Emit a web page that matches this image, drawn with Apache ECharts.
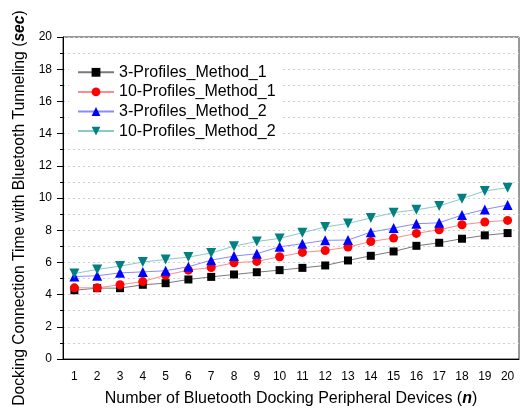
<!DOCTYPE html>
<html>
<head>
<meta charset="utf-8">
<script src="https://cdn.jsdelivr.net/npm/echarts@6/dist/echarts.min.js"></script>
<style>
  html, body { margin: 0; padding: 0; background: #fff; }
  #chart { width: 520px; height: 409px; }
</style>
</head>
<body>
<div id="chart"></div>
<script>
// number of peripheral devices
const devices = ['1', '2', '3', '4', '5', '6', '7', '8', '9', '10',
  '11', '12', '13', '14', '15', '16', '17', '18', '19', '20']

// docking connection time (sec)
const profiles3Method1 = [4.27, 4.40, 4.40, 4.61, 4.71, 4.94, 5.10, 5.25, 5.39, 5.52,
  5.66, 5.81, 6.12, 6.41, 6.68, 7.03, 7.22, 7.47, 7.68, 7.82]
const profiles10Method1 = [4.42, 4.42, 4.61, 4.81, 5.21, 5.52, 5.68, 5.98, 6.06, 6.35,
  6.62, 6.74, 6.95, 7.30, 7.51, 7.80, 8.03, 8.34, 8.51, 8.61]
const profiles3Method2 = [5.12, 5.17, 5.35, 5.41, 5.48, 5.73, 6.14, 6.39, 6.54, 6.97,
  7.16, 7.37, 7.39, 7.88, 8.13, 8.40, 8.46, 8.94, 9.29, 9.56]
const profiles10Method2 = [5.31, 5.56, 5.77, 6.02, 6.18, 6.33, 6.58, 7.01, 7.30, 7.49,
  7.84, 8.20, 8.42, 8.76, 9.09, 9.27, 9.50, 9.96, 10.44, 10.64]

const FONT = "'Liberation Sans', Arial, sans-serif"

function lineSeries(name, data, symbol, color, lineColor, size, rotate) {
  return {
    name,
    type: 'line',
    data,
    symbol,
    symbolSize: size,
    symbolRotate: rotate || 0,
    itemStyle: { color },
    lineStyle: { color: lineColor, width: 1 },
    emphasis: { disabled: true },
  }
}

const chart = echarts.init(document.getElementById('chart'))

chart.setOption({
  animation: false,
  backgroundColor: '#fff',
  textStyle: { fontFamily: FONT },
  grid: {
    left: 63, right: 1, top: 37, bottom: 50,
    outerBoundsMode: 'none',
    containLabel: false,
    show: true, borderColor: '#333', borderWidth: 1,
  },
  legend: {
    orient: 'vertical',
    left: 69, top: 59,
    padding: [5, 5, 5, 8],
    backgroundColor: '#fff',
    itemWidth: 36, itemHeight: 11,
    itemGap: 3,
    textStyle: { fontSize: 16, lineHeight: 16.6, color: '#000', fontFamily: FONT },
  },
  xAxis: {
    type: 'category',
    data: devices,
    boundaryGap: true,
    name: 'Number of Bluetooth Docking Peripheral Devices ({b|n})',
    nameLocation: 'middle',
    nameGap: 32,
    nameTextStyle: {
      fontSize: 16, lineHeight: 16, color: '#000', fontFamily: FONT,
      rich: { b: { fontSize: 16, lineHeight: 16, fontWeight: 'bold', fontStyle: 'italic', fontFamily: FONT } },
    },
    axisLine: { lineStyle: { color: '#000', width: 1 } },
    axisTick: { alignWithLabel: true, length: 5, lineStyle: { color: '#000' } },
    axisLabel: { fontSize: 12, color: '#000', margin: 12, interval: 0 },
    splitLine: { show: false },
  },
  yAxis: {
    type: 'value',
    min: 0, max: 20, interval: 2,
    name: 'Docking Connection Time with Bluetooth Tunneling ({b|sec})',
    nameLocation: 'middle',
    nameGap: 34,
    nameTextStyle: {
      fontSize: 15.7, color: '#000', fontFamily: FONT,
      padding: [0, 20, 0, 0],
      rich: { b: { fontSize: 15.7, fontWeight: 'bold', fontStyle: 'italic', fontFamily: FONT } },
    },
    axisLine: { show: true, lineStyle: { color: '#000', width: 1 } },
    axisTick: { show: true, length: 6, lineStyle: { color: '#000' } },
    minorTick: { show: true, splitNumber: 2, length: 3, lineStyle: { color: '#000' } },
    axisLabel: { fontSize: 12, color: '#000', margin: 11 },
    splitLine: { show: true, lineStyle: { color: '#d0d0d0', type: [2, 3] } },
    minorSplitLine: { show: true, lineStyle: { color: '#d0d0d0', type: [2, 3] } },
  },
  series: [
    lineSeries('3-Profiles_Method_1', profiles3Method1, 'rect', '#000000', '#7a7a7a', 8),
    lineSeries('10-Profiles_Method_1', profiles10Method1, 'circle', '#ff0000', '#ff8a8a', 9),
    lineSeries('3-Profiles_Method_2', profiles3Method2, 'triangle', '#0000ff', '#8a8aff', 10),
    lineSeries('10-Profiles_Method_2', profiles10Method2, 'triangle', '#008080', '#8cc8c8', 10, 180),
  ],
})
</script>
</body>
</html>
